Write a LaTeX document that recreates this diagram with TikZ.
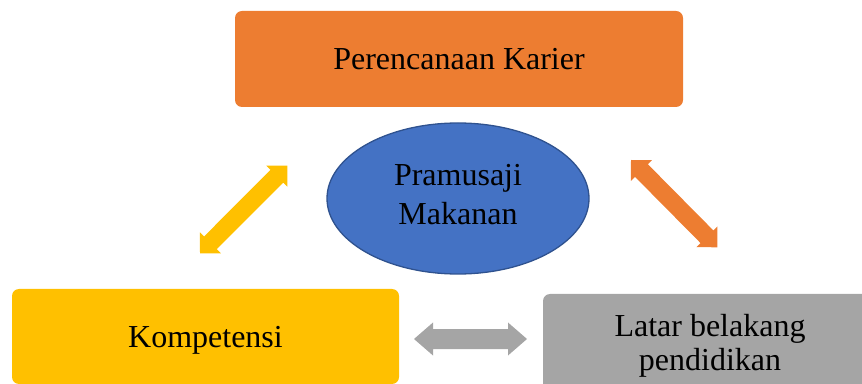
\documentclass[tikz,border=0pt]{standalone}
\usepackage{fontspec}
\setmainfont{Liberation Serif}
\usetikzlibrary{shapes.geometric}
\definecolor{boxorange}{HTML}{ED7D31}
\definecolor{boxyellow}{HTML}{FFC000}
\definecolor{boxgray}{HTML}{A5A5A5}
\definecolor{ellblue}{HTML}{4472C4}
\definecolor{ellborder}{HTML}{2F528F}
\newcommand{\dblarrowpath}[4]{(0,0) -- (#2,#3) -- (#2,#4) -- ({#1-#2},#4) -- ({#1-#2},#3) -- (#1,0) -- ({#1-#2},-#3) -- ({#1-#2},-#4) -- (#2,-#4) -- (#2,-#3) -- cycle}
\begin{document}
\begin{tikzpicture}[x=1pt,y=1pt,
  box/.style={rectangle, rounded corners=7pt, inner sep=0pt, text=black,
    font=\fontsize{32}{38}\selectfont},
  oneline/.style={text height=28.5pt, text depth=6.9pt}]
\clip (0,0) rectangle (862,383);
\useasboundingbox (0,0) rectangle (862,383);

\node[box, oneline, fill=boxorange, minimum width=448pt, minimum height=96pt] (plan) at (459,324) {Perencanaan Karier};
\node[box, oneline, fill=boxyellow, minimum width=387pt, minimum height=95pt] (komp) at (205.5,46.5) {Kompetensi};
\node[box, fill=boxgray, minimum width=334pt, minimum height=96pt, align=center,
  font=\fontsize{32}{34}\selectfont, text height=56pt, text depth=0pt] (latar) at (710,41) {Latar belakang\\pendidikan};
\node[ellipse, draw=ellborder, line width=1.3pt, fill=ellblue, minimum width=262pt, minimum height=151pt,
  inner sep=0pt, align=center, font=\fontsize{32}{39}\selectfont, text height=53pt, text depth=0pt] (pram) at (458,184.5) {Pramusaji\\Makanan};

\coordinate (ya) at (200,129.7);
\coordinate (oa) at (631,223);
\coordinate (ga) at (414,44);
\begin{scope}[shift={(ya)}, rotate=45.1]
  \fill[boxyellow] \dblarrowpath{123.7}{14.8}{14.8}{9};
\end{scope}
\begin{scope}[shift={(oa)}, rotate=-45.3]
  \fill[boxorange] \dblarrowpath{122.8}{14.8}{14.8}{9};
\end{scope}
\begin{scope}[shift={(ga)}]
  \fill[boxgray] \dblarrowpath{113}{19}{16.5}{10};
\end{scope}
\end{tikzpicture}
\end{document}
